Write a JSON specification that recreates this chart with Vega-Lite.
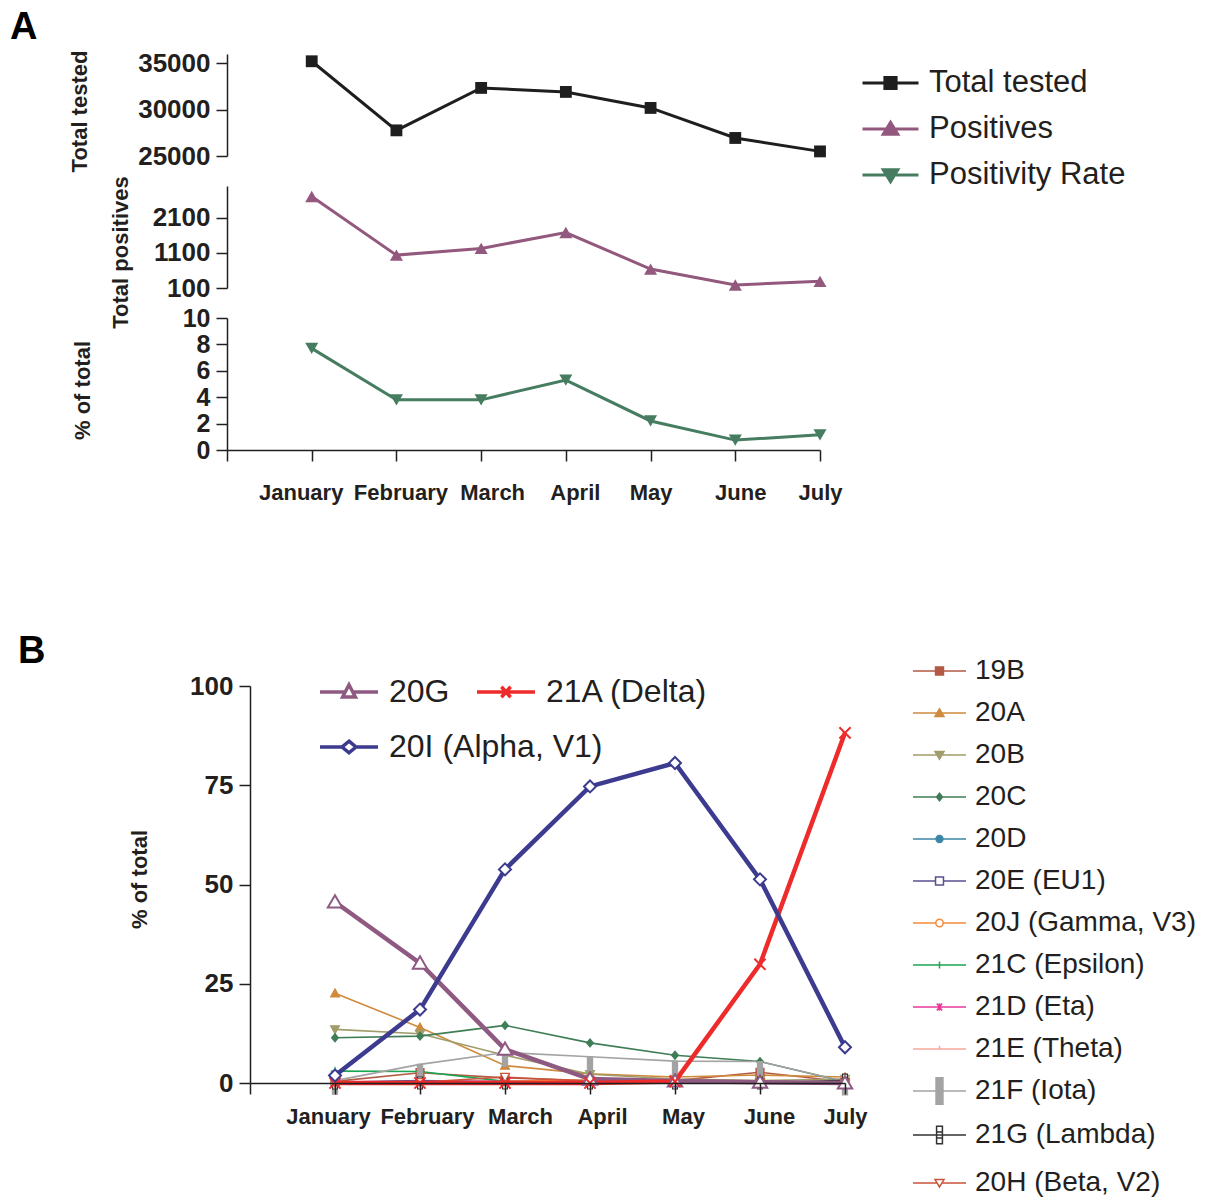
{
  "$schema": "https://vega.github.io/schema/vega-lite/v6.json",
  "background": "white",
  "padding": {"left": 10, "top": 9, "right": 0, "bottom": 0},
  "config": {
    "font": "Liberation Sans",
    "view": {"stroke": null},
    "axis": {
      "grid": false, "labelOverlap": false,
      "domainColor": "#231f20", "domainWidth": 1.5,
      "tickColor": "#231f20", "tickWidth": 1.5, "tickSize": 11,
      "labelFont": "Liberation Sans", "labelFontSize": 26, "labelFontWeight": "bold", "labelColor": "#231f20", "labelPadding": 6,
      "titleFont": "Liberation Sans", "titleFontSize": 22, "titleFontWeight": "bold", "titleColor": "#231f20"
    },
    "legend": {"labelFont": "Liberation Sans", "labelColor": "#231f20", "labelLimit": 400, "padding": 0},
    "title": {"font": "Liberation Sans", "fontSize": 38, "fontWeight": "bold", "anchor": "start", "color": "#000000", "frame": "group"}
  },
  "datasets": {
    "tested": [
      {"month": "January", "series": "Total tested", "value": 35216},
      {"month": "February", "series": "Total tested", "value": 27765},
      {"month": "March", "series": "Total tested", "value": 32343},
      {"month": "April", "series": "Total tested", "value": 31911},
      {"month": "May", "series": "Total tested", "value": 30183},
      {"month": "June", "series": "Total tested", "value": 26944},
      {"month": "July", "series": "Total tested", "value": 25497}
    ],
    "pos": [
      {"month": "January", "value": 2701},
      {"month": "February", "value": 1035},
      {"month": "March", "value": 1225},
      {"month": "April", "value": 1678},
      {"month": "May", "value": 638},
      {"month": "June", "value": 185},
      {"month": "July", "value": 290}
    ],
    "rate": [
      {"month": "January", "value": 7.7},
      {"month": "February", "value": 3.8},
      {"month": "March", "value": 3.8},
      {"month": "April", "value": 5.3},
      {"month": "May", "value": 2.2},
      {"month": "June", "value": 0.75},
      {"month": "July", "value": 1.15}
    ],
    "major": [
      {"month": "January", "variant": "20G", "pct": 45.6},
      {"month": "February", "variant": "20G", "pct": 30.2},
      {"month": "March", "variant": "20G", "pct": 8.5},
      {"month": "April", "variant": "20G", "pct": 1.0},
      {"month": "May", "variant": "20G", "pct": 0.5},
      {"month": "June", "variant": "20G", "pct": 0.2},
      {"month": "July", "variant": "20G", "pct": 0.0},
      {"month": "January", "variant": "21A (Delta)", "pct": 0.0},
      {"month": "February", "variant": "21A (Delta)", "pct": 0.0},
      {"month": "March", "variant": "21A (Delta)", "pct": 0.0},
      {"month": "April", "variant": "21A (Delta)", "pct": 0.0},
      {"month": "May", "variant": "21A (Delta)", "pct": 0.4},
      {"month": "June", "variant": "21A (Delta)", "pct": 29.9},
      {"month": "July", "variant": "21A (Delta)", "pct": 88.2},
      {"month": "January", "variant": "20I (Alpha, V1)", "pct": 1.9},
      {"month": "February", "variant": "20I (Alpha, V1)", "pct": 18.5},
      {"month": "March", "variant": "20I (Alpha, V1)", "pct": 53.8},
      {"month": "April", "variant": "20I (Alpha, V1)", "pct": 74.7},
      {"month": "May", "variant": "20I (Alpha, V1)", "pct": 80.6},
      {"month": "June", "variant": "20I (Alpha, V1)", "pct": 51.3},
      {"month": "July", "variant": "20I (Alpha, V1)", "pct": 9.0}
    ],
    "minor": [
      {"month": "January", "variant": "19B", "pct": 0.4},
      {"month": "February", "variant": "19B", "pct": 2.6},
      {"month": "March", "variant": "19B", "pct": 1.3},
      {"month": "April", "variant": "19B", "pct": 0.6},
      {"month": "May", "variant": "19B", "pct": 0.6},
      {"month": "June", "variant": "19B", "pct": 2.7},
      {"month": "July", "variant": "19B", "pct": 0.3},
      {"month": "January", "variant": "20A", "pct": 22.6},
      {"month": "February", "variant": "20A", "pct": 14.0},
      {"month": "March", "variant": "20A", "pct": 4.4},
      {"month": "April", "variant": "20A", "pct": 2.3},
      {"month": "May", "variant": "20A", "pct": 1.5},
      {"month": "June", "variant": "20A", "pct": 2.0},
      {"month": "July", "variant": "20A", "pct": 1.5},
      {"month": "January", "variant": "20B", "pct": 13.5},
      {"month": "February", "variant": "20B", "pct": 12.4},
      {"month": "March", "variant": "20B", "pct": 7.0},
      {"month": "April", "variant": "20B", "pct": 2.2},
      {"month": "May", "variant": "20B", "pct": 1.0},
      {"month": "June", "variant": "20B", "pct": 0.6},
      {"month": "July", "variant": "20B", "pct": 1.0},
      {"month": "January", "variant": "20C", "pct": 11.4},
      {"month": "February", "variant": "20C", "pct": 11.8},
      {"month": "March", "variant": "20C", "pct": 14.5},
      {"month": "April", "variant": "20C", "pct": 10.1},
      {"month": "May", "variant": "20C", "pct": 7.0},
      {"month": "June", "variant": "20C", "pct": 5.4},
      {"month": "July", "variant": "20C", "pct": 0.3},
      {"month": "January", "variant": "20D", "pct": 0.1},
      {"month": "February", "variant": "20D", "pct": 0.5},
      {"month": "March", "variant": "20D", "pct": 0.2},
      {"month": "April", "variant": "20D", "pct": 0.1},
      {"month": "May", "variant": "20D", "pct": 0.1},
      {"month": "June", "variant": "20D", "pct": 0.1},
      {"month": "July", "variant": "20D", "pct": 0.0},
      {"month": "January", "variant": "20E (EU1)", "pct": 0.2},
      {"month": "February", "variant": "20E (EU1)", "pct": 0.6},
      {"month": "March", "variant": "20E (EU1)", "pct": 0.3},
      {"month": "April", "variant": "20E (EU1)", "pct": 0.3},
      {"month": "May", "variant": "20E (EU1)", "pct": 0.2},
      {"month": "June", "variant": "20E (EU1)", "pct": 0.2},
      {"month": "July", "variant": "20E (EU1)", "pct": 0.2},
      {"month": "January", "variant": "20J (Gamma, V3)", "pct": 0.0},
      {"month": "February", "variant": "20J (Gamma, V3)", "pct": 0.0},
      {"month": "March", "variant": "20J (Gamma, V3)", "pct": 0.5},
      {"month": "April", "variant": "20J (Gamma, V3)", "pct": 0.7},
      {"month": "May", "variant": "20J (Gamma, V3)", "pct": 0.6},
      {"month": "June", "variant": "20J (Gamma, V3)", "pct": 0.2},
      {"month": "July", "variant": "20J (Gamma, V3)", "pct": 0.3},
      {"month": "January", "variant": "21C (Epsilon)", "pct": 3.0},
      {"month": "February", "variant": "21C (Epsilon)", "pct": 2.9},
      {"month": "March", "variant": "21C (Epsilon)", "pct": 0.4},
      {"month": "April", "variant": "21C (Epsilon)", "pct": 0.2},
      {"month": "May", "variant": "21C (Epsilon)", "pct": 0.1},
      {"month": "June", "variant": "21C (Epsilon)", "pct": 0.0},
      {"month": "July", "variant": "21C (Epsilon)", "pct": 0.0},
      {"month": "January", "variant": "21D (Eta)", "pct": 0.0},
      {"month": "February", "variant": "21D (Eta)", "pct": 0.3},
      {"month": "March", "variant": "21D (Eta)", "pct": 0.4},
      {"month": "April", "variant": "21D (Eta)", "pct": 0.2},
      {"month": "May", "variant": "21D (Eta)", "pct": 0.1},
      {"month": "June", "variant": "21D (Eta)", "pct": 0.0},
      {"month": "July", "variant": "21D (Eta)", "pct": 0.0},
      {"month": "January", "variant": "21E (Theta)", "pct": 0.0},
      {"month": "February", "variant": "21E (Theta)", "pct": 0.1},
      {"month": "March", "variant": "21E (Theta)", "pct": 0.2},
      {"month": "April", "variant": "21E (Theta)", "pct": 0.1},
      {"month": "May", "variant": "21E (Theta)", "pct": 0.0},
      {"month": "June", "variant": "21E (Theta)", "pct": 0.0},
      {"month": "July", "variant": "21E (Theta)", "pct": 0.0},
      {"month": "January", "variant": "21F (Iota)", "pct": 0.6},
      {"month": "February", "variant": "21F (Iota)", "pct": 4.7},
      {"month": "March", "variant": "21F (Iota)", "pct": 7.7},
      {"month": "April", "variant": "21F (Iota)", "pct": 6.6},
      {"month": "May", "variant": "21F (Iota)", "pct": 5.5},
      {"month": "June", "variant": "21F (Iota)", "pct": 5.4},
      {"month": "July", "variant": "21F (Iota)", "pct": 0.4},
      {"month": "January", "variant": "21G (Lambda)", "pct": 0.0},
      {"month": "February", "variant": "21G (Lambda)", "pct": 0.0},
      {"month": "March", "variant": "21G (Lambda)", "pct": 0.0},
      {"month": "April", "variant": "21G (Lambda)", "pct": 0.0},
      {"month": "May", "variant": "21G (Lambda)", "pct": 0.0},
      {"month": "June", "variant": "21G (Lambda)", "pct": 0.0},
      {"month": "July", "variant": "21G (Lambda)", "pct": 0.7},
      {"month": "January", "variant": "20H (Beta, V2)", "pct": 0.0},
      {"month": "February", "variant": "20H (Beta, V2)", "pct": 0.2},
      {"month": "March", "variant": "20H (Beta, V2)", "pct": 1.5},
      {"month": "April", "variant": "20H (Beta, V2)", "pct": 0.4},
      {"month": "May", "variant": "20H (Beta, V2)", "pct": 0.3},
      {"month": "June", "variant": "20H (Beta, V2)", "pct": 0.0},
      {"month": "July", "variant": "20H (Beta, V2)", "pct": 0.0}
    ]
  },
  "spacing": 129,
  "vconcat": [
    {
      "title": {"text": "A", "dx": -217, "offset": 3, "frame": "group"},
      "spacing": 30,
      "bounds": "flush",
      "vconcat": [
        {
          "width": 593, "height": 102,
          "data": {"name": "tested"},
          "encoding": {
            "x": {"field": "month", "type": "ordinal", "scale": {"type": "point", "domain": ["", "January", "February", "March", "April", "May", "June", "July"], "padding": 0}, "axis": null},
            "y": {"field": "value", "type": "quantitative", "scale": {"domain": [25000, 36000], "nice": false, "zero": false}, "axis": {"values": [25000, 30000, 35000], "format": "d", "title": "Total tested", "titlePadding": 46, "titleY": 57}}
          },
          "layer": [
            {"mark": {"type": "line", "color": "#1e1e1e", "strokeWidth": 3}, "encoding": {}},
            {"mark": {"type": "point", "shape": "square", "filled": true, "color": "#1e1e1e", "size": 140, "opacity": 1}, "encoding": {}},
            {
              "transform": [{"filter": "false"}],
              "mark": {"type": "point", "strokeWidth": 3, "opacity": 1},
              "encoding": {
                "stroke": {"field": "series", "type": "nominal", "scale": {"domain": ["Total tested", "Positives", "Positivity Rate"], "range": ["#1e1e1e", "#93587d", "#467c60"]},
                  "legend": {"orient": "none", "legendX": 634, "legendY": -0.5, "title": null, "direction": "vertical", "labelFontSize": 31, "labelFontWeight": "normal", "labelOffset": 9, "symbolSize": 3136, "symbolStrokeWidth": 3, "symbolOpacity": 1, "rowPadding": 1}},
                "fill": {"field": "series", "type": "nominal", "scale": {"domain": ["Total tested", "Positives", "Positivity Rate"], "range": ["#1e1e1e", "#93587d", "#467c60"]},
                  "legend": {"orient": "none", "legendX": 634, "legendY": -0.5, "title": null, "direction": "vertical", "labelFontSize": 31, "labelFontWeight": "normal", "labelOffset": 9, "symbolSize": 3136, "symbolStrokeWidth": 3, "symbolOpacity": 1, "rowPadding": 1}},
                "shape": {"field": "series", "type": "nominal", "scale": {"domain": ["Total tested", "Positives", "Positivity Rate"], "range": ["M-1,0H1M-0.2,-0.2H0.2V0.2H-0.2Z", "M-1,0H1M0,-0.24L0.26,0.19H-0.26Z", "M-1,0H1M0,0.24L0.26,-0.19H-0.26Z"]},
                  "legend": {"orient": "none", "legendX": 634, "legendY": -0.5, "title": null, "direction": "vertical", "labelFontSize": 31, "labelFontWeight": "normal", "labelOffset": 9, "symbolSize": 3136, "symbolStrokeWidth": 3, "symbolOpacity": 1, "rowPadding": 1}}
              }
            }
          ]
        },
        {
          "width": 593, "height": 102,
          "data": {"name": "pos"},
          "encoding": {
            "x": {"field": "month", "type": "ordinal", "scale": {"type": "point", "domain": ["", "January", "February", "March", "April", "May", "June", "July"], "padding": 0}, "axis": null},
            "y": {"field": "value", "type": "quantitative", "scale": {"domain": [100, 3000], "nice": false, "zero": false}, "axis": {"values": [100, 1100, 2100], "format": "d", "title": "Total positives", "titlePadding": 20, "titleY": 66}}
          },
          "layer": [
            {"mark": {"type": "line", "color": "#93587d", "strokeWidth": 3}, "encoding": {}},
            {"mark": {"type": "point", "shape": "triangle-up", "filled": true, "color": "#93587d", "size": 170, "opacity": 1}, "encoding": {}}
          ]
        },
        {
          "width": 593, "height": 132,
          "data": {"name": "rate"},
          "encoding": {
            "x": {"field": "month", "type": "ordinal", "scale": {"type": "point", "domain": ["", "January", "February", "March", "April", "May", "June", "July"], "padding": 0},
              "axis": {"title": null, "labelAngle": 0, "labelFontSize": 22, "labelPadding": 21, "labelOverlap": false,
                "labelOffset": {"condition": [{"test": "datum.value === 'January'", "value": -11}, {"test": "datum.value === 'February'", "value": 4}, {"test": "datum.value === 'March'", "value": 11}, {"test": "datum.value === 'April'", "value": 9}, {"test": "datum.value === 'June'", "value": 5}], "value": 0}}},
            "y": {"field": "value", "type": "quantitative", "scale": {"domain": [0, 10], "nice": false}, "axis": {"values": [0, 2, 4, 6, 8, 10], "labelFontSize": 25, "title": "% of total", "titlePadding": 88, "titleY": 72}}
          },
          "layer": [
            {"mark": {"type": "line", "color": "#467c60", "strokeWidth": 3}, "encoding": {}},
            {"mark": {"type": "point", "shape": "triangle-down", "filled": true, "color": "#467c60", "size": 170, "opacity": 1}, "encoding": {}}
          ]
        }
      ]
    },
    {
      "spacing": 22,
      "bounds": "flush",
      "hconcat": [
        {
          "title": {"text": "B", "dx": -209, "offset": 15.5, "frame": "group"},
          "width": 1, "height": 1,
          "data": {"values": []},
          "mark": "point"
        },
        {
          "width": 595, "height": 397,
          "encoding": {
            "x": {"field": "month", "type": "ordinal", "scale": {"type": "point", "domain": ["", "January", "February", "March", "April", "May", "June", "July"], "padding": 0},
              "axis": {"title": null, "labelAngle": 0, "labelFontSize": 22, "labelPadding": 12, "labelOverlap": false, "zindex": 1,
                "labelOffset": {"condition": [{"test": "datum.value === 'January'", "value": -7}, {"test": "datum.value === 'February'", "value": 7}, {"test": "datum.value === 'March'", "value": 15}, {"test": "datum.value === 'April'", "value": 12}, {"test": "datum.value === 'May'", "value": 8}, {"test": "datum.value === 'June'", "value": 9}], "value": 0}}},
            "y": {"field": "pct", "type": "quantitative", "scale": {"domain": [0, 100], "nice": false}, "axis": {"values": [0, 25, 50, 75, 100], "title": "% of total", "titlePadding": 38, "titleY": 193}}
          },
          "layer": [
            {
              "data": {"name": "minor"},
              "layer": [
                {
                  "mark": {"type": "line", "strokeWidth": 1.6},
                  "encoding": {
                    "color": {"field": "variant", "type": "nominal", "scale": {"domain": ["20H (Beta, V2)", "21G (Lambda)", "21F (Iota)", "21E (Theta)", "21D (Eta)", "21C (Epsilon)", "20J (Gamma, V3)", "20E (EU1)", "20D", "20C", "20B", "20A", "19B"], "range": ["#c8553a", "#333333", "#a3a3a3", "#f7a99a", "#e8399b", "#1aa652", "#f58a3a", "#5b4f92", "#3c87a6", "#3f7d56", "#a19c6a", "#d08a3c", "#b35a45"]}, "legend": null}
                  }
                },
                {
                  "mark": {"type": "point", "opacity": 1, "strokeWidth": 1.2, "size": 256},
                  "encoding": {
                    "stroke": {"field": "variant", "type": "nominal", "scale": {"domain": ["20H (Beta, V2)", "21G (Lambda)", "21F (Iota)", "21E (Theta)", "21D (Eta)", "21C (Epsilon)", "20J (Gamma, V3)", "20E (EU1)", "20D", "20C", "20B", "20A", "19B"], "range": ["#c8553a", "#333333", "#a3a3a3", "#f7a99a", "#e8399b", "#1aa652", "#f58a3a", "#5b4f92", "#3c87a6", "#3f7d56", "#a19c6a", "#d08a3c", "#b35a45"]}, "legend": null},
                    "fill": {"field": "variant", "type": "nominal", "scale": {"domain": ["20H (Beta, V2)", "21G (Lambda)", "21F (Iota)", "21E (Theta)", "21D (Eta)", "21C (Epsilon)", "20J (Gamma, V3)", "20E (EU1)", "20D", "20C", "20B", "20A", "19B"], "range": ["white", "white", "#a3a3a3", "transparent", "transparent", "transparent", "white", "white", "#3c87a6", "#3f7d56", "#a19c6a", "#d08a3c", "#b35a45"]}, "legend": null},
                    "shape": {"field": "variant", "type": "nominal", "scale": {"domain": ["20H (Beta, V2)", "21G (Lambda)", "21F (Iota)", "21E (Theta)", "21D (Eta)", "21C (Epsilon)", "20J (Gamma, V3)", "20E (EU1)", "20D", "20C", "20B", "20A", "19B"], "range": ["M0,0.55L0.55,-0.45H-0.55Z", "M-0.3,-0.75H0.3V0.75H-0.3ZM-0.3,-0.25H0.3M-0.3,0.25H0.3", "M-0.32,0H0.32V1.7H-0.32Z", "M0,-0.4V0.1", "M-0.5,0H0.5M-0.3,-0.45L0.3,0.45M-0.3,0.45L0.3,-0.45", "M-0.55,0H0.55M0,-0.55V0.55", "M-0.45,0A0.45,0.45,0,1,0,0.45,0A0.45,0.45,0,1,0,-0.45,0Z", "M-0.45,-0.45H0.45V0.45H-0.45Z", "M-0.42,0A0.42,0.42,0,1,0,0.42,0A0.42,0.42,0,1,0,-0.42,0Z", "M0,-0.5L0.42,0L0,0.5L-0.42,0Z", "M0,0.55L0.55,-0.45H-0.55Z", "M0,-0.55L0.55,0.45H-0.55Z", "M-0.5,-0.5H0.5V0.5H-0.5Z"]}, "legend": null}
                  }
                },
                {
                  "transform": [{"filter": "false"}],
                  "mark": {"type": "point", "strokeWidth": 1.5, "opacity": 1},
                  "encoding": {
                    "stroke": {"field": "variant", "type": "nominal", "scale": {"domain": ["19B", "20A", "20B", "20C", "20D", "20E (EU1)", "20J (Gamma, V3)", "21C (Epsilon)", "21D (Eta)", "21E (Theta)", "21F (Iota)", "21G (Lambda)"], "range": ["#b35a45", "#d08a3c", "#a19c6a", "#3f7d56", "#3c87a6", "#5b4f92", "#f58a3a", "#1aa652", "#e8399b", "#f7a99a", "#a3a3a3", "#333333"]},
                      "legend": {"orient": "none", "legendX": 662, "legendY": -42.5, "title": null, "direction": "vertical", "labelFontSize": 28, "labelFontWeight": "normal", "labelOffset": 8, "symbolSize": 2809, "symbolStrokeWidth": 1.5, "symbolOpacity": 1, "rowPadding": 0}},
                    "fill": {"field": "variant", "type": "nominal", "scale": {"domain": ["19B", "20A", "20B", "20C", "20D", "20E (EU1)", "20J (Gamma, V3)", "21C (Epsilon)", "21D (Eta)", "21E (Theta)", "21F (Iota)", "21G (Lambda)"], "range": ["#b35a45", "#d08a3c", "#a19c6a", "#3f7d56", "#3c87a6", "white", "white", "transparent", "transparent", "transparent", "#a3a3a3", "white"]},
                      "legend": {"orient": "none", "legendX": 662, "legendY": -42.5, "title": null, "direction": "vertical", "labelFontSize": 28, "labelFontWeight": "normal", "labelOffset": 8, "symbolSize": 2809, "symbolStrokeWidth": 1.5, "symbolOpacity": 1, "rowPadding": 0}},
                    "shape": {"field": "variant", "type": "nominal", "scale": {"domain": ["19B", "20A", "20B", "20C", "20D", "20E (EU1)", "20J (Gamma, V3)", "21C (Epsilon)", "21D (Eta)", "21E (Theta)", "21F (Iota)", "21G (Lambda)"], "range": ["M-1,0H1M-0.15,-0.15H0.15V0.15H-0.15Z", "M-1,0H1M0,-0.16L0.17,0.13H-0.17Z", "M-1,0H1M0,0.16L0.17,-0.13H-0.17Z", "M-1,0H1M0,-0.14L0.11,0L0,0.14L-0.11,0Z", "M-1,0H1M-0.13,0A0.13,0.13,0,1,0,0.13,0A0.13,0.13,0,1,0,-0.13,0Z", "M-1,0H-0.15M0.15,0H1M-0.15,-0.15H0.15V0.15H-0.15Z", "M-1,0H-0.14M0.14,0H1M-0.14,0A0.14,0.14,0,1,0,0.14,0A0.14,0.14,0,1,0,-0.14,0Z", "M-1,0H1M0,-0.13V0.13", "M-1,0H1M-0.1,-0.13L0.1,0.13M-0.1,0.13L0.1,-0.13M0,-0.14V0.14", "M-1,0H1M0,-0.12V0", "M-1,0H1M-0.13,-0.5H0.13V0.5H-0.13Z", "M-1,0H1M-0.11,-0.33H0.11V0.33H-0.11ZM-0.11,-0.11H0.11M-0.11,0.11H0.11"]},
                      "legend": {"orient": "none", "legendX": 662, "legendY": -42.5, "title": null, "direction": "vertical", "labelFontSize": 28, "labelFontWeight": "normal", "labelOffset": 8, "symbolSize": 2809, "symbolStrokeWidth": 1.5, "symbolOpacity": 1, "rowPadding": 0}}
                  }
                },
                {
                  "transform": [{"filter": "false"}],
                  "mark": {"type": "point", "strokeWidth": 1.5, "opacity": 1},
                  "encoding": {
                    "stroke": {"field": "variant", "type": "nominal", "scale": {"domain": ["20H (Beta, V2)"], "range": ["#c8553a"]},
                      "legend": {"orient": "none", "legendX": 662, "legendY": 469.5, "title": null, "direction": "vertical", "labelFontSize": 28, "labelFontWeight": "normal", "labelOffset": 8, "symbolSize": 2809, "symbolStrokeWidth": 1.5, "symbolOpacity": 1, "rowPadding": 0}},
                    "fill": {"field": "variant", "type": "nominal", "scale": {"domain": ["20H (Beta, V2)"], "range": ["white"]},
                      "legend": {"orient": "none", "legendX": 662, "legendY": 469.5, "title": null, "direction": "vertical", "labelFontSize": 28, "labelFontWeight": "normal", "labelOffset": 8, "symbolSize": 2809, "symbolStrokeWidth": 1.5, "symbolOpacity": 1, "rowPadding": 0}},
                    "shape": {"field": "variant", "type": "nominal", "scale": {"domain": ["20H (Beta, V2)"], "range": ["M-1,0H-0.09M0.09,0H1M0,0.15L0.17,-0.13H-0.17Z"]},
                      "legend": {"orient": "none", "legendX": 662, "legendY": 469.5, "title": null, "direction": "vertical", "labelFontSize": 28, "labelFontWeight": "normal", "labelOffset": 8, "symbolSize": 2809, "symbolStrokeWidth": 1.5, "symbolOpacity": 1, "rowPadding": 0}}
                  }
                }
              ],
              "resolve": {"scale": {"stroke": "independent", "fill": "independent", "shape": "independent"}}
            },
            {
              "data": {"name": "major"},
              "layer": [
                {
                  "mark": {"type": "line", "strokeWidth": 4.5},
                  "encoding": {
                    "color": {"field": "variant", "type": "nominal", "scale": {"domain": ["20I (Alpha, V1)", "21A (Delta)", "20G"], "range": ["#3c3b8f", "#ee2b2b", "#8f5a82"]}, "legend": null}
                  }
                },
                {
                  "mark": {"type": "point", "opacity": 1, "strokeWidth": 2, "size": 256},
                  "encoding": {
                    "stroke": {"field": "variant", "type": "nominal", "scale": {"domain": ["20I (Alpha, V1)", "21A (Delta)", "20G"], "range": ["#3c3b8f", "#ee2b2b", "#8f5a82"]}, "legend": null},
                    "fill": {"field": "variant", "type": "nominal", "scale": {"domain": ["20I (Alpha, V1)", "21A (Delta)", "20G"], "range": ["white", "transparent", "white"]}, "legend": null},
                    "shape": {"field": "variant", "type": "nominal", "scale": {"domain": ["20I (Alpha, V1)", "21A (Delta)", "20G"], "range": ["M0,-0.75L0.75,0L0,0.75L-0.75,0Z", "M-0.7,-0.7L0.7,0.7M-0.7,0.7L0.7,-0.7", "M0,-0.85L0.9,0.7L-0.9,0.7Z"]}, "legend": null}
                  }
                },
                {
                  "transform": [{"filter": "false"}],
                  "mark": {"type": "point", "strokeWidth": 3.5, "opacity": 1},
                  "encoding": {
                    "stroke": {"field": "variant", "type": "nominal", "scale": {"domain": ["20G", "21A (Delta)"], "range": ["#8f5a82", "#ee2b2b"]},
                      "legend": {"orient": "none", "legendX": 68, "legendY": -25, "title": null, "direction": "horizontal", "columnPadding": 20, "labelFontSize": 32, "labelFontWeight": "normal", "labelOffset": 9, "symbolSize": 3364, "symbolStrokeWidth": 3.5, "symbolOpacity": 1}},
                    "fill": {"field": "variant", "type": "nominal", "scale": {"domain": ["20G", "21A (Delta)"], "range": ["white", "transparent"]},
                      "legend": {"orient": "none", "legendX": 68, "legendY": -25, "title": null, "direction": "horizontal", "columnPadding": 20, "labelFontSize": 32, "labelFontWeight": "normal", "labelOffset": 9, "symbolSize": 3364, "symbolStrokeWidth": 3.5, "symbolOpacity": 1}},
                    "shape": {"field": "variant", "type": "nominal", "scale": {"domain": ["20G", "21A (Delta)"], "range": ["M-1,0H-0.17M0.17,0H1M0,-0.25L0.22,0.17H-0.22Z", "M-1,0H1M-0.16,-0.18L0.16,0.18M-0.16,0.18L0.16,-0.18"]},
                      "legend": {"orient": "none", "legendX": 68, "legendY": -25, "title": null, "direction": "horizontal", "columnPadding": 20, "labelFontSize": 32, "labelFontWeight": "normal", "labelOffset": 9, "symbolSize": 3364, "symbolStrokeWidth": 3.5, "symbolOpacity": 1}}
                  }
                },
                {
                  "transform": [{"filter": "false"}],
                  "mark": {"type": "point", "strokeWidth": 3.5, "opacity": 1},
                  "encoding": {
                    "stroke": {"field": "variant", "type": "nominal", "scale": {"domain": ["20I (Alpha, V1)"], "range": ["#3c3b8f"]},
                      "legend": {"orient": "none", "legendX": 68, "legendY": 30, "title": null, "direction": "horizontal", "labelFontSize": 32, "labelFontWeight": "normal", "labelOffset": 9, "symbolSize": 3364, "symbolStrokeWidth": 3.5, "symbolOpacity": 1}},
                    "fill": {"field": "variant", "type": "nominal", "scale": {"domain": ["20I (Alpha, V1)"], "range": ["white"]},
                      "legend": {"orient": "none", "legendX": 68, "legendY": 30, "title": null, "direction": "horizontal", "labelFontSize": 32, "labelFontWeight": "normal", "labelOffset": 9, "symbolSize": 3364, "symbolStrokeWidth": 3.5, "symbolOpacity": 1}},
                    "shape": {"field": "variant", "type": "nominal", "scale": {"domain": ["20I (Alpha, V1)"], "range": ["M-1,0H-0.24M0.24,0H1M0,-0.2L0.24,0L0,0.2L-0.24,0Z"]},
                      "legend": {"orient": "none", "legendX": 68, "legendY": 30, "title": null, "direction": "horizontal", "labelFontSize": 32, "labelFontWeight": "normal", "labelOffset": 9, "symbolSize": 3364, "symbolStrokeWidth": 3.5, "symbolOpacity": 1}}
                  }
                }
              ],
              "resolve": {"scale": {"stroke": "independent", "fill": "independent", "shape": "independent"}}
            }
          ],
          "resolve": {"scale": {"color": "independent", "stroke": "independent", "fill": "independent", "shape": "independent"}}
        }
      ]
    }
  ]
}
